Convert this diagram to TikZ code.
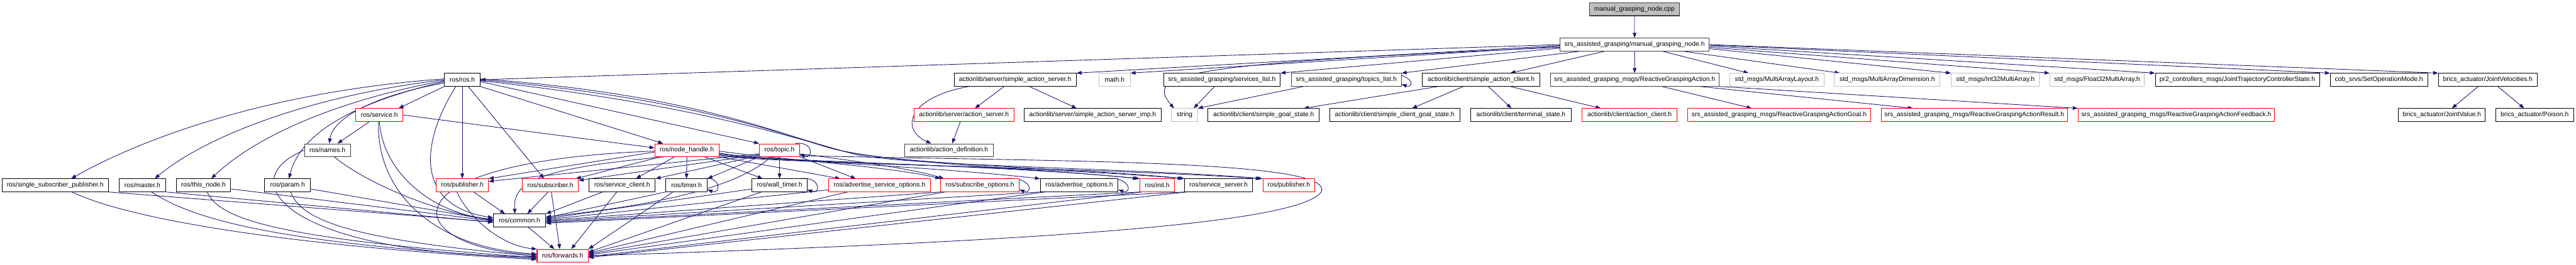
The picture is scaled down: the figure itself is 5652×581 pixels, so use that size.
\documentclass[tikz,border=0pt]{standalone}
\usepackage{fontspec}
\setmainfont{Liberation Sans}
\usetikzlibrary{arrows.meta}
\pgfdeclarelayer{background}
\pgfsetlayers{background,main}
\definecolor{navyedge}{RGB}{25,25,112}
\definecolor{greyseventyfive}{RGB}{191,191,191}
\definecolor{boxred}{RGB}{255,0,0}
\definecolor{darkborder}{RGB}{64,64,64}
\tikzset{
  box/.style={draw, fill=white, line width=1.4pt, minimum height=28pt, inner xsep=1pt, inner ysep=0pt, font=\fontsize{14.3}{16}\selectfont, text=black},
  nb/.style={box, draw=black},
  nd/.style={box, draw=darkborder},
  nr/.style={box, draw=boxred},
  ng/.style={box, draw=greyseventyfive},
  ncpp/.style={box, draw=darkborder, fill=greyseventyfive},
  edge/.style={draw=navyedge, line width=1.2pt, -{Triangle[length=11pt,width=8pt]}},
}
\newcommand\dgnode[6]{\node[#1, minimum width=#5pt] (#2) at (#3,#4) {#6};}
\newcommand\dgloop[2]{\draw[edge] ([xshift=-#2]#1.north east) .. controls ([xshift=30,yshift=6]#1.north east) and ([xshift=30,yshift=-6]#1.south east) .. ([yshift=5]#1.south east);}
\begin{document}
\begin{tikzpicture}[x=1pt,y=-1pt]
\useasboundingbox (0,0) rectangle (5652,581);
% Row A
\dgnode{ncpp}{cpp}{3586.2}{20.5}{198}{manual\_grasping\_node.cpp}
% Row B
\dgnode{nd}{mgn}{3586.4}{98}{327.6}{srs\_assisted\_grasping/manual\_grasping\_node.h}
% Row C
\dgnode{nb}{ros}{1014.3}{175.3}{77.6}{ros/ros.h}
\dgnode{nb}{sas}{2227.3}{175.3}{267.9}{actionlib/server/simple\_action\_server.h}
\dgnode{ng}{math}{2445.7}{175.3}{68}{math.h}
\dgnode{nb}{svl}{2681}{175.3}{255.7}{srs\_assisted\_grasping/services\_list.h}
\dgnode{nd}{tpl}{2953.9}{175.3}{241.5}{srs\_assisted\_grasping/topics\_list.h}
\dgnode{nb}{sac}{3249.7}{175.3}{257.6}{actionlib/client/simple\_action\_client.h}
\dgnode{nd}{rga}{3586.6}{175.3}{370.3}{srs\_assisted\_grasping\_msgs/ReactiveGraspingAction.h}
\dgnode{ng}{mal}{3898.7}{175.3}{207.1}{std\_msgs/MultiArrayLayout.h}
\dgnode{ng}{mad}{4140.8}{175.3}{232.1}{std\_msgs/MultiArrayDimension.h}
\dgnode{ng}{i32}{4378}{175.3}{193.3}{std\_msgs/Int32MultiArray.h}
\dgnode{ng}{f32}{4601.2}{175.3}{207.5}{std\_msgs/Float32MultiArray.h}
\dgnode{nb}{jtc}{4909}{175.3}{360.1}{pr2\_controllers\_msgs/JointTrajectoryControllerState.h}
\dgnode{nb}{som}{5219.6}{175.3}{213.5}{cob\_srvs/SetOperationMode.h}
\dgnode{nb}{jv}{5458.4}{175.3}{216.3}{brics\_actuator/JointVelocities.h}
% Row D
\dgnode{nr}{srv}{832.5}{252.7}{103.3}{ros/service.h}
\dgnode{nr}{asrv}{2115}{252.7}{219.8}{actionlib/server/action\_server.h}
\dgnode{nb}{simp}{2397.5}{252.7}{300.3}{actionlib/server/simple\_action\_server\_imp.h}
\dgnode{ng}{str}{2599}{252.7}{56.9}{string}
\dgnode{nb}{sgs}{2772.5}{252.7}{244.1}{actionlib/client/simple\_goal\_state.h}
\dgnode{nb}{scgs}{3060.1}{252.7}{285.2}{actionlib/client/simple\_client\_goal\_state.h}
\dgnode{nb}{ts}{3337}{252.7}{220.9}{actionlib/client/terminal\_state.h}
\dgnode{nr}{ac}{3575.4}{252.7}{208.2}{actionlib/client/action\_client.h}
\dgnode{nr}{goal}{3903.6}{252.7}{400.4}{srs\_assisted\_grasping\_msgs/ReactiveGraspingActionGoal.h}
\dgnode{nr}{res}{4331.7}{252.7}{408.9}{srs\_assisted\_grasping\_msgs/ReactiveGraspingActionResult.h}
\dgnode{nr}{fb}{4775}{252.7}{431.1}{srs\_assisted\_grasping\_msgs/ReactiveGraspingActionFeedback.h}
\dgnode{nb}{jval}{5357.8}{252.7}{190.4}{brics\_actuator/JointValue.h}
\dgnode{nb}{poi}{5561.1}{252.7}{171.2}{brics\_actuator/Poison.h}
% Row E
\dgnode{nd}{names}{718.5}{330}{100.9}{ros/names.h}
\dgnode{nr}{nh}{1507}{330}{140.5}{ros/node\_handle.h}
\dgnode{nr}{topic}{1710.4}{330}{88.2}{ros/topic.h}
\dgnode{nd}{adef}{2082.2}{330}{194.4}{actionlib/action\_definition.h}
% Row F
\dgnode{nb}{ssp}{121}{407.2}{232.8}{ros/single\_subscriber\_publisher.h}
\dgnode{nb}{master}{312.5}{407.2}{103.3}{ros/master.h}
\dgnode{nb}{thisn}{446.5}{407.2}{119.8}{ros/this\_node.h}
\dgnode{nb}{param}{630.9}{407.2}{100.1}{ros/param.h}
\dgnode{nr}{pub}{1014.3}{407.2}{114.3}{ros/publisher.h}
\dgnode{nr}{sub}{1207.6}{407.2}{122.6}{ros/subscriber.h}
\dgnode{nb}{scl}{1365.2}{407.2}{144.9}{ros/service\_client.h}
\dgnode{nb}{timer}{1506.3}{407.2}{90.4}{ros/timer.h}
\dgnode{nb}{wt}{1710.4}{407.2}{120.3}{ros/wall\_timer.h}
\dgnode{nr}{aso}{1929.7}{407.2}{222.7}{ros/advertise\_service\_options.h}
\dgnode{nr}{so}{2149.9}{407.2}{172}{ros/subscribe\_options.h}
\dgnode{nb}{ao}{2367.9}{407.2}{170.4}{ros/advertise\_options.h}
\dgnode{nr}{init}{2539.2}{407.2}{75.7}{ros/init.h}
\dgnode{nb}{ss}{2673.5}{407.2}{147.9}{ros/service\_server.h}
\dgnode{nr}{pub2}{2827.9}{407.2}{114.1}{ros/publisher.h}
% Row G, H
\dgnode{nb}{common}{1139.9}{484.5}{114.7}{ros/common.h}
\dgnode{nr}{fwd}{1234.4}{562}{112}{ros/forwards.h}

\begin{pgfonlayer}{background}
\fill[white] (0,0) rectangle (5652,581);
\draw[edge] (cpp) -- (mgn);
\draw[edge] (mgn.west) -- (ros.east);
\draw[edge] ([yshift=-2]mgn.west) -- (sas.north east);
\draw[edge] ([yshift=-4]mgn.west) -- (math.north east);
\draw[edge] ([yshift=-6]mgn.west) .. controls (2600,140) and (2510,160) .. ([xshift=6]str.north west);
\draw[edge] ([yshift=-8]mgn.west) -- (svl.north east);
\draw[edge] ([xshift=-120]mgn.south) -- (tpl.north east);
\draw[edge] ([xshift=-66]mgn.south) -- ([xshift=64]sac.north);
\draw[edge] (mgn) -- (rga);
\draw[edge] ([xshift=61]mgn.south) -- ([xshift=-62]mal.north);
\draw[edge] ([xshift=107]mgn.south) -- ([xshift=-104]mad.north);
\draw[edge] ([yshift=-9]mgn.east) -- (i32.north west);
\draw[edge] ([yshift=-6]mgn.east) -- (f32.north west);
\draw[edge] ([yshift=-3]mgn.east) -- (jtc.north west);
\draw[edge] ([yshift=-1]mgn.east) -- (som.north west);
\draw[edge] (mgn.east) -- (jv.north west);
% rga
\draw[edge] ([xshift=60]rga.south) -- ([xshift=-60]goal.north);
\draw[edge] ([xshift=143]rga.south) -- ([xshift=-134]res.north);
\draw[edge] (rga.south east) -- (fb.north west);
% sac
\draw[edge] ([xshift=-94]sac.south) -- ([xshift=88]sgs.north);
\draw[edge] ([xshift=-39]sac.south) -- ([xshift=38]scgs.north);
\draw[edge] ([xshift=16]sac.south) -- ([xshift=-21]ts.north);
\draw[edge] ([xshift=64]sac.south) -- ([xshift=-63]ac.north);
% jv
\draw[edge] ([xshift=-21]jv.south) -- ([xshift=22]jval.north);
\draw[edge] ([xshift=22]jv.south) -- ([xshift=-23]poi.north);
% string
\draw[edge] ([xshift=-16]svl.south) -- ([xshift=20]str.north);
\draw[edge] ([xshift=-94]tpl.south) -- (str.north east);
\dgloop{tpl}{58}
% sas
\draw[edge] ([xshift=-24]sas.south) -- ([xshift=24]asrv.north);
\draw[edge] ([xshift=31]sas.south) -- ([xshift=-35]simp.north);
\draw[edge] ([xshift=-102]sas.south) .. controls (1990,215) and (1975,285) .. ([xshift=-39]adef.north);
\draw[edge] ([xshift=-8]asrv.south) -- ([xshift=7]adef.north);
% ros
\draw[edge] ([yshift=2]ros.west) .. controls (600,200) and (320,300) .. ([xshift=35]ssp.north);
\draw[edge] (ros.west) .. controls (680,210) and (450,300) .. ([xshift=27]master.north);
\draw[edge] ([yshift=-2]ros.west) .. controls (740,220) and (560,300) .. ([xshift=17]thisn.north);
\draw[edge] ([yshift=-4]ros.west) .. controls (780,225) and (660,290) .. ([xshift=3]param.north);
\draw[edge] ([yshift=-7]ros.west) .. controls (820,210) and (730,260) .. ([xshift=4]names.north);
\draw[edge] (ros.south west) -- ([xshift=42]srv.north);
\draw[edge] ([xshift=-14]ros.south) .. controls (930,300) and (900,450) .. ([yshift=6]common.west);
\draw[edge] (ros) -- (pub);
\draw[edge] ([xshift=13]ros.south) -- ([xshift=-14]sub.north);
\draw[edge] (ros.south east) -- ([xshift=-52]nh.north);
\draw[edge] ([yshift=-4]ros.east) -- (topic.north west);
\draw[edge] ([yshift=2]ros.east) .. controls (1500,205) and (1700,290) .. (1820,325) .. controls (1950,360) and (2300,372) .. (init.north west);
\draw[edge] (ros.east) .. controls (1520,215) and (1720,298) .. (1850,332) .. controls (1980,362) and (2400,372) .. (ss.north west);
\draw[edge] ([yshift=-2]ros.east) .. controls (1540,230) and (1760,310) .. (1880,340) .. controls (2000,365) and (2500,370) .. (pub2.north west);
% service.h
\draw[edge] ([xshift=-22]srv.south) -- ([xshift=22]names.north);
\draw[edge] (srv.south) .. controls (840,380) and (950,470) .. ([yshift=3]common.west);
\draw[edge] ([xshift=-2]srv.south) .. controls (825,420) and (950,545) .. ([yshift=4]fwd.west);
\draw[edge] (srv.east) -- ([yshift=5]nh.west);
% names
\draw[edge] ([xshift=15]names.south) .. controls (800,400) and (950,465) .. ([yshift=1]common.west);
\draw[edge] (names.west) .. controls (500,400) and (640,560) .. ([yshift=-2]fwd.west);
% left row F
\draw[edge] (ssp.south east) -- ([yshift=-3]common.west);
\draw[edge] ([xshift=37]ssp.south) .. controls (300,490) and (700,545) .. ([yshift=-8]fwd.west);
\draw[edge] (master.south east) -- ([yshift=-4]common.west);
\draw[edge] ([xshift=20]master.south) .. controls (420,480) and (600,535) .. ([yshift=-6]fwd.west);
\draw[edge] ([yshift=-8]thisn.east) -- ([yshift=-1]common.west);
\draw[edge] ([xshift=8]thisn.south) .. controls (480,480) and (600,525) .. ([yshift=-4]fwd.west);
\draw[edge] ([yshift=-8]param.east) -- (common.west);
\draw[edge] ([xshift=7]param.south) .. controls (660,480) and (750,525) .. ([yshift=-1]fwd.west);
% pub, sub, service_client, common
\draw[edge] ([xshift=25]pub.south) -- ([xshift=-32]common.north);
\draw[edge] ([xshift=-12]pub.south) .. controls (1030,480) and (1100,540) .. (fwd.north west);
\draw[edge] ([xshift=-5]sub.south) -- ([xshift=17]common.north);
\draw[edge] ([xshift=2]sub.south) -- ([xshift=-6]fwd.north);
\draw[edge] ([xshift=-43]scl.south) -- (common.north east);
\draw[edge] ([xshift=-12]scl.south) -- ([xshift=19]fwd.north);
\draw[edge] ([xshift=19]common.south) -- ([xshift=-18]fwd.north);
% node_handle
\draw[edge] ([yshift=-4]nh.west) -- (pub.north east);
\draw[edge] ([xshift=-58]nh.south) -- ([xshift=-6]sub.north east);
\draw[edge] ([xshift=-27]nh.south) -- ([xshift=30]scl.north);
\draw[edge] (nh.south) -- (timer.north);
\draw[edge] ([xshift=39]nh.south) -- ([xshift=-37]wt.north);
\draw[edge] (nh.south east) -- ([xshift=-86]aso.north);
\draw[edge] ([yshift=-2]nh.east) .. controls (1700,350) and (1950,365) .. (so.north west);
\draw[edge] ([yshift=-6]nh.east) .. controls (1650,352) and (2000,362) .. (ao.north west);
\draw[edge] ([yshift=-8]nh.east) .. controls (1700,356) and (2200,362) .. ([xshift=-4]init.north west);
\draw[edge] ([yshift=-10]nh.east) .. controls (1700,358) and (2300,366) .. ([xshift=-4]ss.north west);
\draw[edge] ([yshift=-12]nh.east) .. controls (1700,360) and (2400,368) .. ([xshift=-4]pub2.north west);
\draw[edge] ([xshift=-50]nh.south) .. controls (1180,370) and (1125,400) .. ([xshift=-10]common.north);
\draw[edge] ([yshift=-2]nh.west) .. controls (820,355) and (880,545) .. ([yshift=2]fwd.west);
% topic
\dgloop{topic}{10}
\draw[edge] ([yshift=-8]topic.west) -- ([yshift=-6]pub.north east);
\draw[edge] ([yshift=-10]topic.west) -- ([yshift=-4]sub.north east);
\draw[edge] ([yshift=-12]topic.west) -- (scl.north east);
\draw[edge] (topic.south west) -- (timer.north east);
\draw[edge] (topic) -- (wt);
\draw[edge] (topic.south east) -- ([xshift=-52]aso.north);
\draw[edge] ([yshift=-8]topic.east) .. controls (1850,350) and (2000,370) .. ([xshift=8]so.north west);
\draw[edge] ([xshift=-19]topic.south) .. controls (1620,410) and (1450,450) .. ([yshift=8]common.east);
\draw[edge] ([yshift=-12]topic.east) .. controls (2300,355) and (2920,350) .. (2900,420) .. controls (2860,490) and (2300,530) .. (fwd.east);
% self loops
\dgloop{timer}{8}
\dgloop{wt}{17}
\dgloop{so}{34}
\dgloop{ao}{32}
% row F right side to common and forwards
\draw[edge] (timer.south west) -- ([yshift=6]common.east);
\draw[edge] ([xshift=-30]timer.south) -- (fwd.north east);
\draw[edge] ([yshift=-8]wt.west) -- ([yshift=4]common.east);
\draw[edge] ([xshift=-40]wt.south) -- ([yshift=8]fwd.east);
\draw[edge] ([yshift=-10]aso.west) -- ([yshift=2]common.east);
\draw[edge] ([xshift=-70]aso.south) -- ([yshift=6]fwd.east);
\draw[edge] (so.south west) -- (common.east);
\draw[edge] ([xshift=10]so.south west) -- ([yshift=4]fwd.east);
\draw[edge] (ao.south west) -- ([yshift=-2]common.east);
\draw[edge] ([xshift=10]ao.south west) -- ([yshift=2]fwd.east);
\draw[edge] (init.south west) -- ([yshift=-4]common.east);
\draw[edge] ([xshift=5]init.south west) -- ([yshift=-2]fwd.east);
\draw[edge] (ss.south west) -- ([yshift=-6]common.east);
\draw[edge] ([xshift=5]ss.south west) -- ([yshift=-4]fwd.east);
\end{pgfonlayer}
\end{tikzpicture}
\end{document}
